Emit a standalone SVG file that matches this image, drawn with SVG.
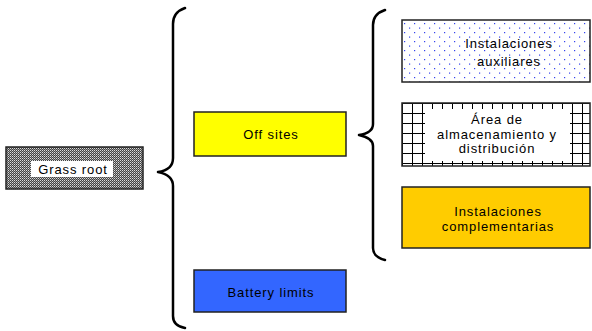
<svg xmlns="http://www.w3.org/2000/svg" width="592" height="331" viewBox="0 0 592 331">
<style>
  .lbl { font-family: "Liberation Sans", Arial, sans-serif; font-size: 13px; letter-spacing: 0.9px; fill: #000; text-anchor: middle; }
  .box { stroke: #222; stroke-width: 1.5; }
  .brace { fill: none; stroke: #000; stroke-width: 2.5; stroke-linejoin: round; stroke-linecap: round; }
</style>
<defs>
  <pattern id="grey" width="2" height="2" patternUnits="userSpaceOnUse">
    <rect width="2" height="2" fill="#444"/>
    <rect width="1" height="1" fill="#ddd"/>
    <rect x="1" y="1" width="1" height="1" fill="#999"/>
  </pattern>
  <pattern id="dots" width="10" height="9" patternUnits="userSpaceOnUse" x="402" y="20">
    <rect width="10" height="9" fill="#fff"/>
    <rect x="2" y="3" width="1.2" height="1.2" fill="#3344ee"/>
    <rect x="7" y="7.5" width="1.2" height="1.2" fill="#3344ee"/>
  </pattern>
  <pattern id="grid" width="10" height="10" patternUnits="userSpaceOnUse" x="402" y="103">
    <rect width="10" height="10" fill="#fff"/>
    <path d="M0 0.5H10M0.5 0V10" stroke="#000" stroke-width="1"/>
  </pattern>
</defs>

<g id="connectors">
  <path class="brace" d="M185 8 Q173 12 173 24 V158 Q173 170 158 172 Q173 175 173 186 V316 Q173 326 185 328"/>
  <path class="brace" d="M385 10 Q373 14 373 25 V124 Q373 133 359 135 Q373 138 373 146 V248 Q373 257 385 260"/>
</g>

<g id="grass-root">
  <rect class="box" x="6" y="147" width="137" height="42" fill="url(#grey)"/>
  <rect x="31" y="161" width="82" height="16" fill="#fff"/>
  <text class="lbl" x="73" y="174">Grass root</text>
</g>

<g id="off-sites">
  <rect class="box" x="194" y="112" width="152" height="44" fill="#ffff00"/>
  <text class="lbl" x="271" y="139">Off sites</text>
</g>

<g id="battery-limits">
  <rect class="box" x="194" y="270" width="152" height="42" fill="#3366ff"/>
  <text class="lbl" x="271" y="297">Battery limits</text>
</g>

<g id="instalaciones-auxiliares">
  <rect class="box" x="402" y="20" width="188" height="62" fill="url(#dots)"/>
  <text class="lbl" x="509" y="48">Instalaciones</text>
  <text class="lbl" x="509" y="66">auxiliares</text>
</g>

<g id="area-almacenamiento">
  <rect class="box" x="402" y="103" width="188" height="63" fill="url(#grid)"/>
  <rect x="425" y="109" width="145" height="52" fill="#fff"/>
  <text class="lbl" x="497" y="124">Área de</text>
  <text class="lbl" x="497" y="139">almacenamiento y</text>
  <text class="lbl" x="497" y="153">distribución</text>
</g>

<g id="instalaciones-complementarias">
  <rect class="box" x="402" y="187" width="188" height="61" fill="#ffcc00"/>
  <text class="lbl" x="498" y="216">Instalaciones</text>
  <text class="lbl" x="498" y="231">complementarias</text>
</g>
</svg>
